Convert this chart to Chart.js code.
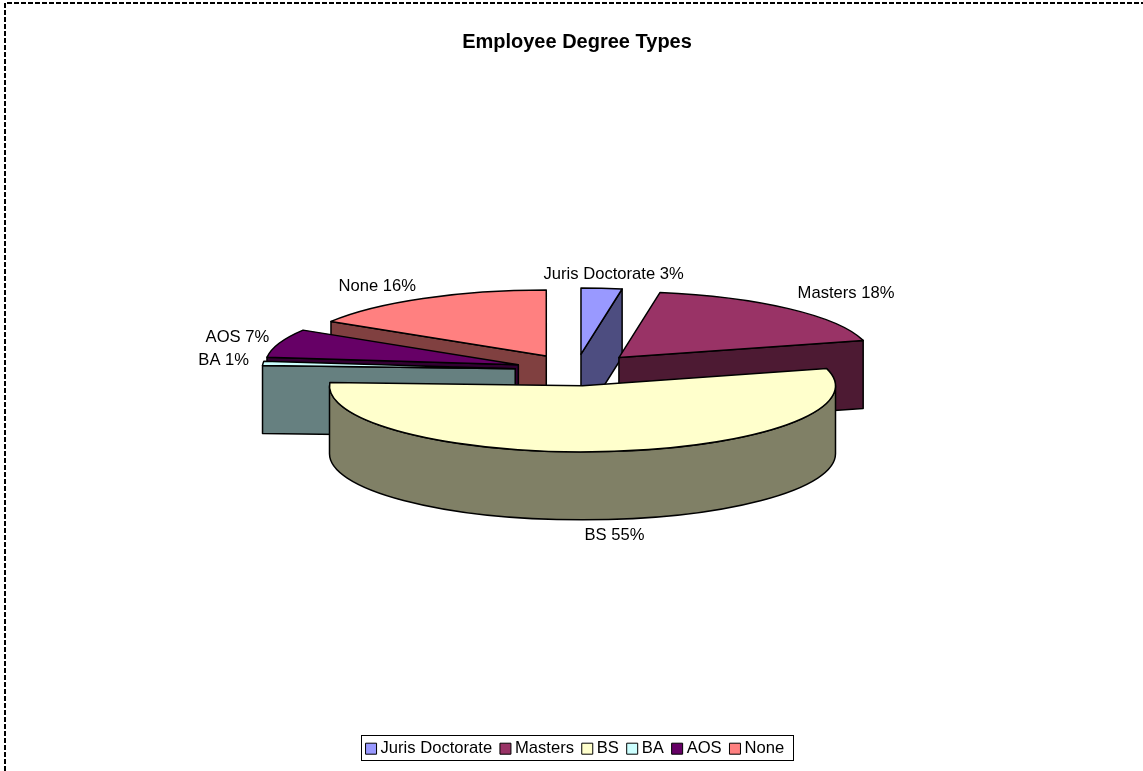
<!DOCTYPE html>
<html>
<head>
<meta charset="utf-8">
<title>Employee Degree Types</title>
<script src="https://cdn.jsdelivr.net/npm/chart.js@4"></script>
<style>
  html, body { margin: 0; padding: 0; background: #fff; overflow: hidden; }
  canvas { display: block; }
</style>
</head>
<body>
<canvas id="degreeChart" width="1143" height="771"></canvas>
<script>
// ─── DATA ─────────────────────────────────────────────────────────
const categories = ['Juris Doctorate', 'Masters', 'BS', 'BA', 'AOS', 'None'];
const shares     = [2.6, 18.2, 55, 1, 7, 16.2];

// ─── STYLE ────────────────────────────────────────────────────────
const topColors  = ['#9999FF', '#993366', '#FFFFCC', '#CCFFFF', '#660066', '#FF8080'];
const sideColors = ['#4D4D80', '#4D1A33', '#808066', '#668080', '#330033', '#804040'];
const FONT = '"Liberation Sans", Arial, sans-serif';

// Tilted pie geometry, the angles themselves come from Chart.js arcs
const PIE = { cx: 576, cy: 370, radius: 253, squash: 0.261, depth: 68 };
const sliceExplode = [61, 64, 61, 61, 61, 61];

// Label anchor relative to the slice rim: [dx, dy, textAlign]
const labelNudge = [
  [12, -14, 'center'],
  [9, -15, 'left'],
  [5, 16, 'center'],
  [-14, -3, 'right'],
  [-10, -6, 'right'],
  [-7, -12, 'right'],
];

// ─── 3D PIE PLUGIN ────────────────────────────────────────────────
function slicePoint(ox, oy, angle) {
  return [ox + Math.cos(angle) * PIE.radius, oy + Math.sin(angle) * PIE.radius * PIE.squash];
}

function drawCutFace(ctx, ox, oy, angle, color) {
  const [rx, ry] = slicePoint(ox, oy, angle);
  ctx.beginPath();
  ctx.moveTo(ox, oy);
  ctx.lineTo(rx, ry);
  ctx.lineTo(rx, ry + PIE.depth);
  ctx.lineTo(ox, oy + PIE.depth);
  ctx.closePath();
  ctx.fillStyle = color;
  ctx.fill();
  ctx.stroke();
}

function drawSlice(ctx, arc, index) {
  const a0 = arc.startAngle;
  const a1 = arc.endAngle;
  const mid = (a0 + a1) / 2;
  const ox = PIE.cx + Math.cos(mid) * sliceExplode[index];
  const oy = PIE.cy + Math.sin(mid) * sliceExplode[index] * PIE.squash;
  const ry = PIE.radius * PIE.squash;

  // Only the cut faces turned towards the viewer
  if (-Math.cos(a0) > 0.001) drawCutFace(ctx, ox, oy, a0, sideColors[index]);
  if (Math.cos(a1) > 0.001) drawCutFace(ctx, ox, oy, a1, sideColors[index]);

  // Outer wall, front half of the ellipse only
  const w0 = Math.max(a0, 0);
  const w1 = Math.min(a1, Math.PI);
  if (w1 > w0) {
    ctx.beginPath();
    ctx.ellipse(ox, oy, PIE.radius, ry, 0, w0, w1);
    ctx.ellipse(ox, oy + PIE.depth, PIE.radius, ry, 0, w1, w0, true);
    ctx.closePath();
    ctx.fillStyle = sideColors[index];
    ctx.fill();
    ctx.stroke();
  }

  // Top surface
  ctx.beginPath();
  ctx.moveTo(ox, oy);
  ctx.ellipse(ox, oy, PIE.radius, ry, 0, a0, a1);
  ctx.closePath();
  ctx.fillStyle = topColors[index];
  ctx.fill();
  ctx.stroke();
}

function drawSliceLabel(ctx, arc, index) {
  const mid = (arc.startAngle + arc.endAngle) / 2;
  const reach = PIE.radius + sliceExplode[index];
  const sin = Math.sin(mid);
  const x = PIE.cx + Math.cos(mid) * reach;
  const y = PIE.cy + sin * reach * PIE.squash + (sin > 0 ? PIE.depth : 0);
  const [dx, dy, align] = labelNudge[index];
  ctx.textAlign = align;
  ctx.textBaseline = 'middle';
  ctx.fillStyle = '#000';
  ctx.font = '16.6px ' + FONT;
  ctx.fillText(categories[index] + ' ' + Math.round(shares[index]) + '%', x + dx, y + dy);
}

const pie3d = {
  id: 'pie3d',
  // dashed page frame, behind everything
  beforeDraw(chart) {
    const { ctx } = chart;
    ctx.save();
    ctx.strokeStyle = '#000';
    ctx.lineWidth = 2;
    ctx.setLineDash([5, 2]);
    ctx.beginPath();
    ctx.moveTo(5, 771);
    ctx.lineTo(5, 3);
    ctx.lineTo(1143, 3);
    ctx.stroke();
    ctx.restore();
  },
  beforeDatasetDraw(chart, args) {
    const { ctx } = chart;
    const arcs = chart.getDatasetMeta(args.index).data;
    // paint back to front
    const order = arcs
      .map((arc, i) => ({ arc, i }))
      .sort((p, q) => Math.sin((p.arc.startAngle + p.arc.endAngle) / 2) -
                      Math.sin((q.arc.startAngle + q.arc.endAngle) / 2));
    ctx.save();
    ctx.strokeStyle = '#000';
    ctx.lineWidth = 1.5;
    ctx.lineJoin = 'round';
    order.forEach(({ arc, i }) => drawSlice(ctx, arc, i));
    arcs.forEach((arc, i) => drawSliceLabel(ctx, arc, i));
    ctx.restore();
    return false;
  },
  // legend outline
  afterDraw(chart) {
    const { ctx } = chart;
    ctx.save();
    ctx.strokeStyle = '#000';
    ctx.lineWidth = 1;
    ctx.strokeRect(361.5, 735.5, 432, 25);
    ctx.restore();
  },
};

// ─── CHART ────────────────────────────────────────────────────────
new Chart(document.getElementById('degreeChart'), {
  type: 'pie',
  data: {
    labels: categories,
    datasets: [{
      data: shares,
      backgroundColor: topColors,
      borderColor: '#000',
      borderWidth: 1,
      radius: PIE.radius,
    }],
  },
  options: {
    responsive: false,
    animation: false,
    layout: { padding: { left: 11, bottom: 4 } },
    plugins: {
      tooltip: { enabled: false },
      title: {
        display: true,
        text: 'Employee Degree Types',
        color: '#000',
        font: { family: FONT, size: 20, weight: 'bold' },
        padding: { top: 30, bottom: 10 },
      },
      legend: {
        position: 'bottom',
        labels: {
          color: '#000',
          font: { family: FONT, size: 16.6 },
          usePointStyle: true,
          pointStyle: 'rect',
          boxWidth: 2.4,
          boxHeight: 11,
          padding: 12.1,
        },
      },
    },
  },
  plugins: [pie3d],
});
</script>
</body>
</html>
